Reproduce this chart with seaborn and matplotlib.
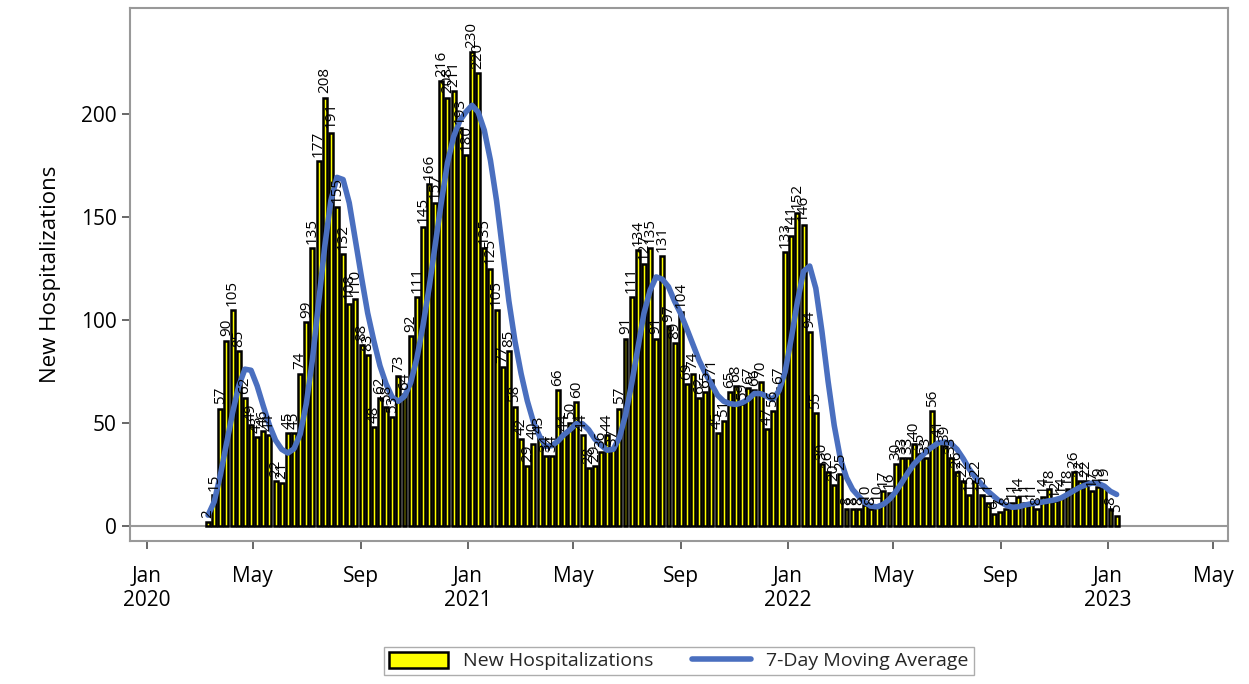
import numpy as np
import pandas as pd
import matplotlib
matplotlib.use("Agg")
import matplotlib.pyplot as plt
import seaborn as sns

# weekly new hospitalizations
hosp = [
    2, 15, 57, 90, 105, 85, 62, 49, 43, 46, 44, 22, 21, 45, 45,
    74, 99, 135, 177, 208, 191, 155, 132, 108, 110, 88, 83, 48, 62, 58, 53, 73, 64, 92,
    111, 145, 166, 157, 216, 208, 211, 193, 180, 230, 220, 135, 125, 105, 77, 85, 58, 42, 29, 40,
    43, 34, 34, 66, 44, 50, 60, 44, 28, 29, 36, 44, 37, 57, 91, 111, 134, 127, 135,
    91, 131, 97, 89, 104, 69, 74, 62, 65, 71, 45, 51, 65, 68, 59, 67, 66, 70, 47,
    56, 67, 133, 141, 152, 146, 94, 55, 30, 26, 20, 25, 8, 8, 8, 10, 8, 10, 17,
    16, 30, 33, 33, 40, 35, 33, 56, 41, 39, 33, 26, 22, 15, 22, 15, 11, 6, 7, 8,
    11, 14, 11, 11, 8, 14, 18, 12, 14, 18, 26, 22, 22, 17, 19, 19, 8, 5,
]
start_date = "2020-03-11"

df = pd.DataFrame({
    "date": pd.date_range(start_date, periods=len(hosp), freq="7D"),
    "hosp": hosp,
})
df["ma"] = (df["hosp"].rolling(5, min_periods=1).mean()
            .rolling(3, center=True, min_periods=1).mean())

sns.set_theme(style="white")
plt.rcParams["font.family"] = ["Open Sans", "DejaVu Sans"]

fig = plt.figure(figsize=(12.49, 6.84), dpi=100)
ax = fig.add_axes([130 / 1249, 1 - 541 / 684, (1228 - 130) / 1249, (541 - 8) / 684])

ax.bar(df["date"], df["hosp"], width=4.5, color="#ffff00", edgecolor="black",
       linewidth=1.8, label="New Hospitalizations", zorder=2)
sns.lineplot(data=df, x="date", y="ma", ax=ax, color="#4a6fbf", linewidth=4,
             label="7-Day Moving Average", zorder=3)

for d, v in zip(df["date"], df["hosp"]):
    ax.text(d, v + 2, str(v), rotation=90, ha="center", va="bottom",
            fontsize=11, color="black", zorder=4)

ax.set_xlim(pd.Timestamp("2019-12-13"), pd.Timestamp("2023-05-18"))
ax.set_ylim(-7.3, 251.5)
ax.set_yticks([0, 50, 100, 150, 200])
ax.axhline(0, color="#999999", lw=1.5, zorder=1)

ticks = pd.date_range("2020-01-01", "2023-05-01", freq="4MS")
ax.set_xticks(ticks)
ax.set_xticklabels([t.strftime("%b") + ("\n" + t.strftime("%Y") if t.month == 1 else "")
                    for t in ticks])
ax.tick_params(axis="both", labelsize=15, length=6, color="#555555", bottom=True, left=True,
               labelcolor="black")
ax.tick_params(axis="x", pad=12)
ax.set_xlabel("")
ax.set_ylabel("New Hospitalizations", fontsize=16, labelpad=14, color="black")

for s in ax.spines.values():
    s.set_color("#999999")
    s.set_linewidth(1.5)

h, l = ax.get_legend_handles_labels()
order = [l.index("New Hospitalizations"), l.index("7-Day Moving Average")]
ax.legend([h[i] for i in order], [l[i] for i in order],
          loc="upper center", bbox_to_anchor=(0.5, -0.18), ncol=2, fontsize=14,
          frameon=True, edgecolor="#999999", fancybox=False, handlelength=3,
          borderpad=0.25, handleheight=0.9)

fig.savefig("out.png", dpi=100)
